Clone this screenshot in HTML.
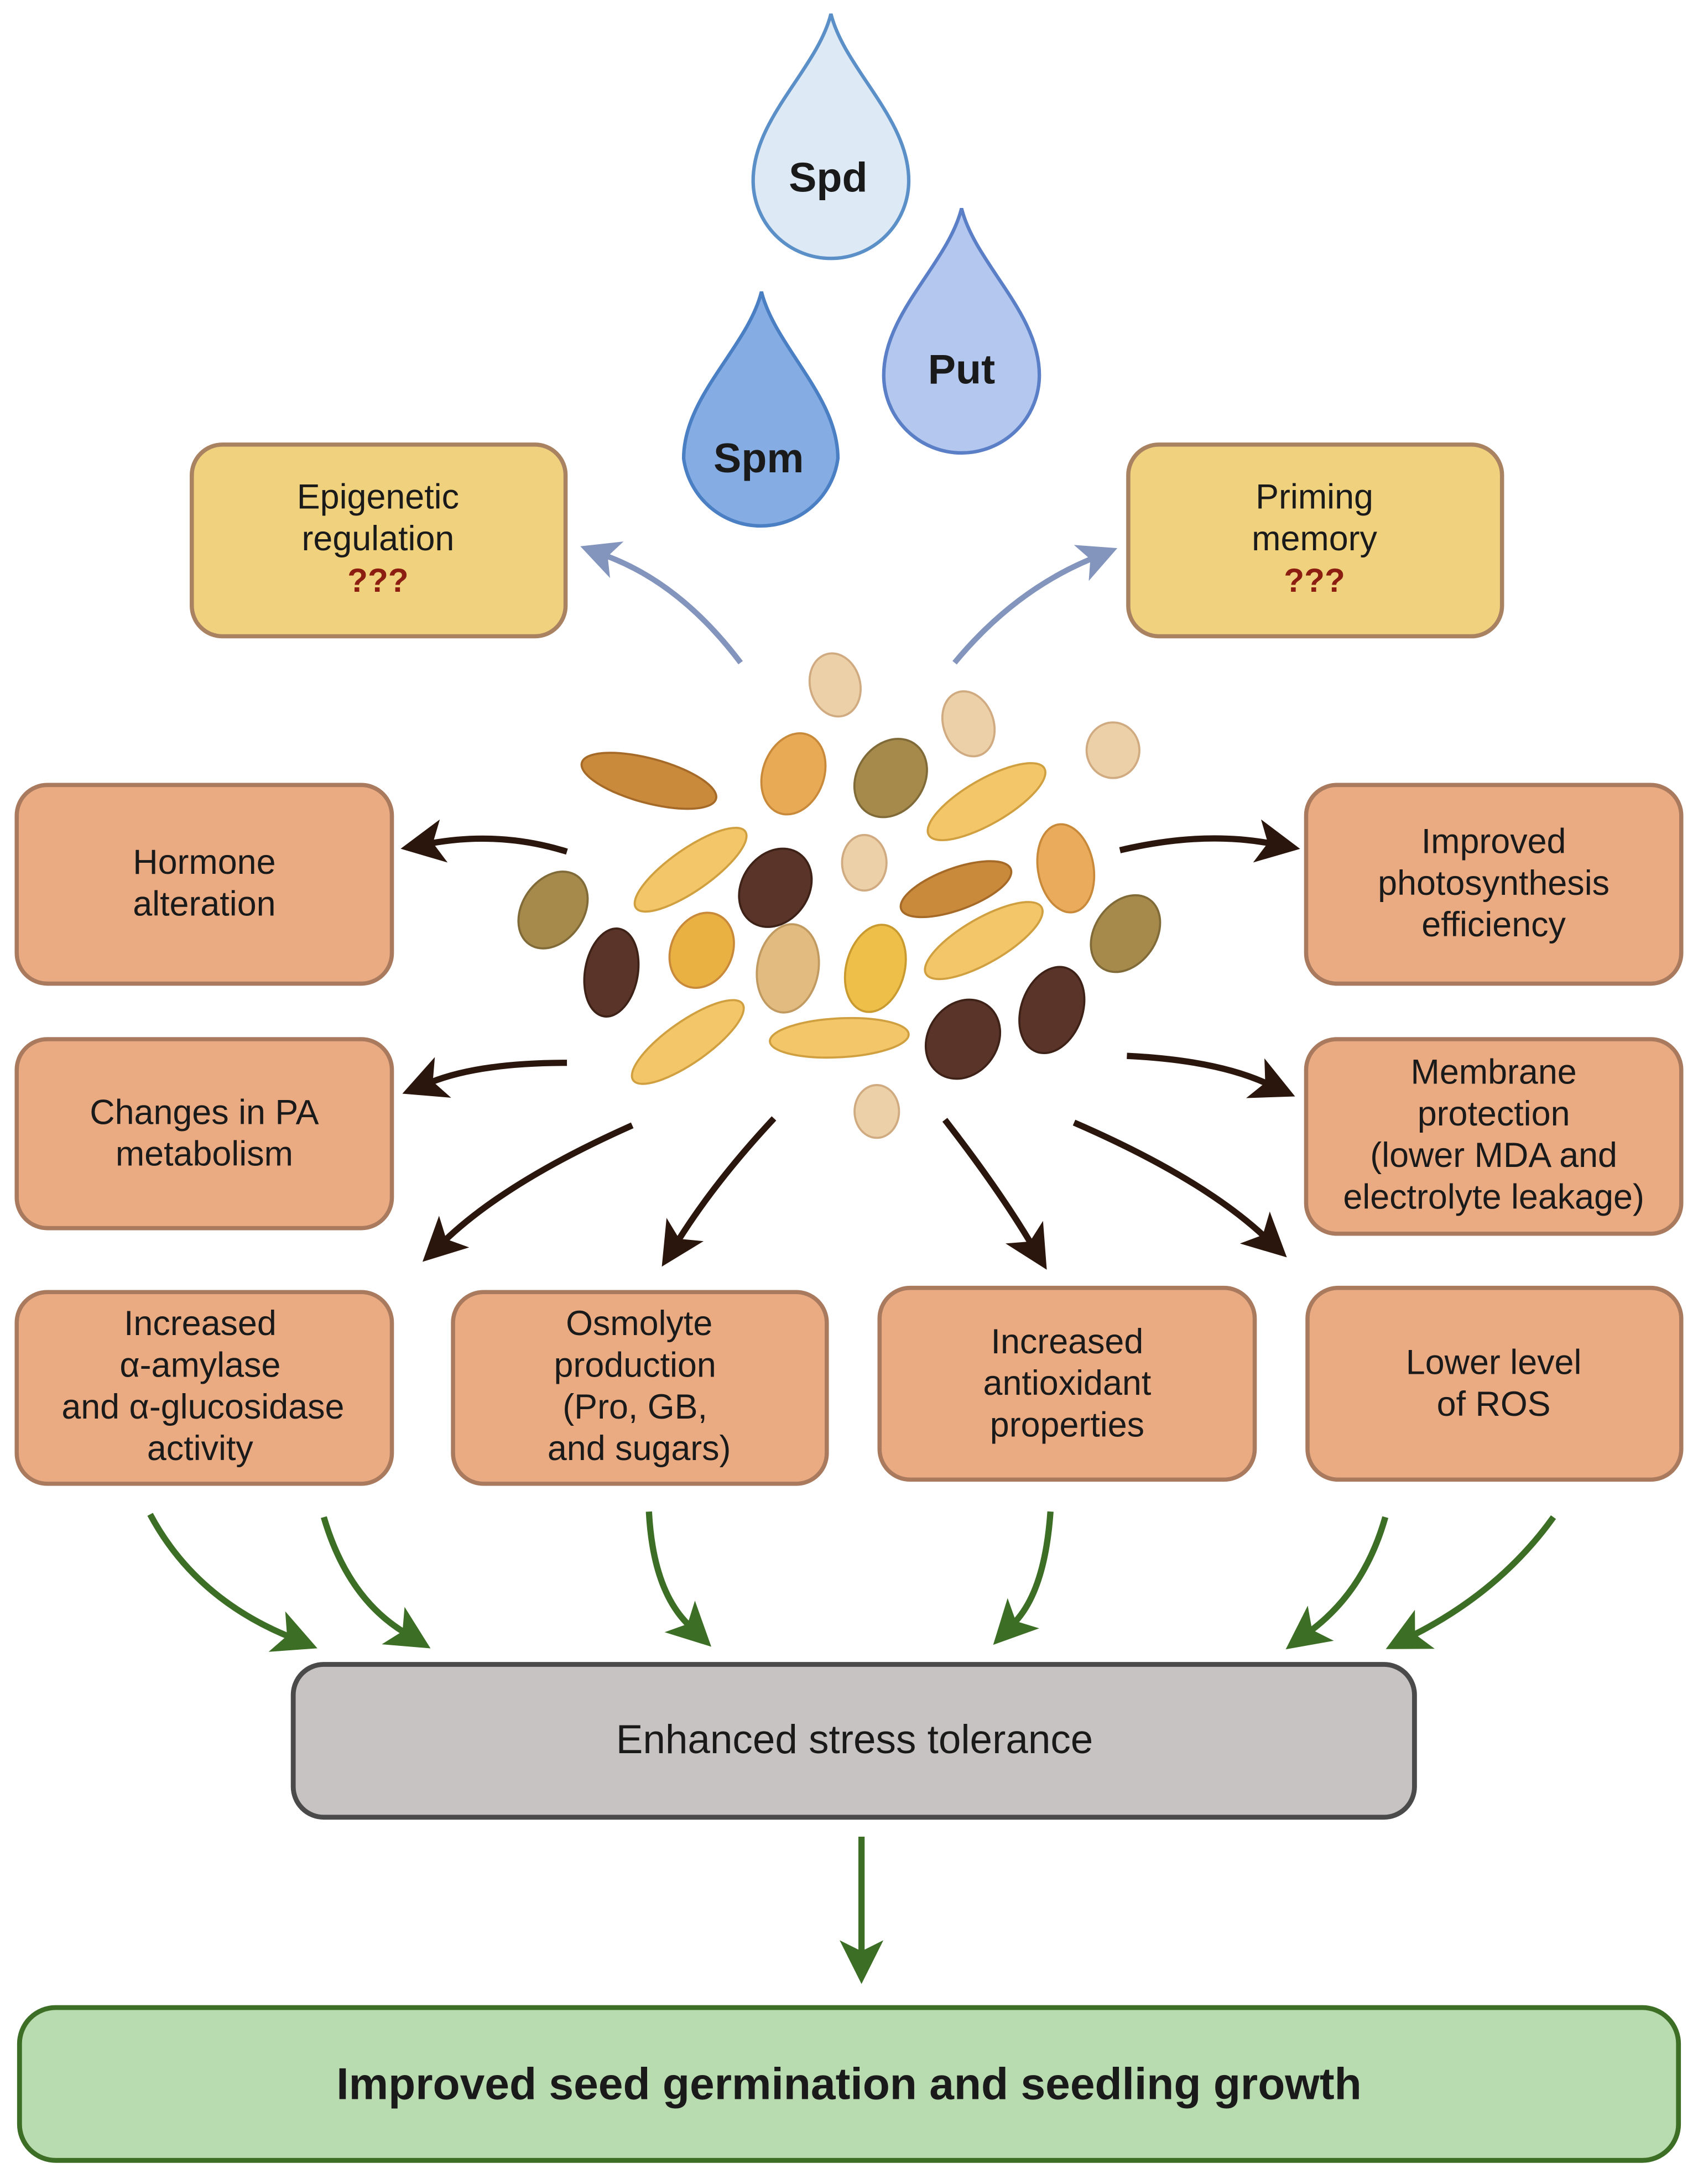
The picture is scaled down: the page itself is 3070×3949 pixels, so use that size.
<!DOCTYPE html>
<html><head><meta charset="utf-8"><style>
html,body{margin:0;padding:0;background:#fff}
svg{display:block}
text{font-family:"Liberation Sans",sans-serif;fill:#1a1a1a}
</style></head><body>
<svg width="3070" height="3949" viewBox="0 0 1222 1572" xmlns="http://www.w3.org/2000/svg">
<defs>
<marker id="mb" viewBox="0 0 10 10" refX="3" refY="5" markerWidth="7" markerHeight="7" markerUnits="strokeWidth" orient="auto"><path d="M0,0 L10,5 L0,10 L2.5,5 Z" fill="#2a160c"/></marker>
<marker id="mg" viewBox="0 0 10 10" refX="3" refY="5" markerWidth="7" markerHeight="7" markerUnits="strokeWidth" orient="auto"><path d="M0,0 L10,5 L0,10 L2.5,5 Z" fill="#3d6e25"/></marker>
<marker id="mv" viewBox="0 0 10 10" refX="3" refY="5" markerWidth="7" markerHeight="7" markerUnits="strokeWidth" orient="auto"><path d="M0,0 L10,5 L0,10 L2.5,5 Z" fill="#8495bd"/></marker>
</defs>

<!-- drops -->
<path d="M598,10 C608,50 654,85 654,130 A56,56 0 0 1 542,130 C542,85 588,50 598,10 Z" fill="#dde9f4" stroke="#5b8fc7" stroke-width="2.5"/>
<text x="596" y="138" font-size="30" font-weight="bold" text-anchor="middle">Spd</text>
<path d="M692,150 C702,190 748,225 748,270 A56,56 0 0 1 636,270 C636,225 682,190 692,150 Z" fill="#b4c7ef" stroke="#5b7fc7" stroke-width="2.5"/>
<text x="692" y="276" font-size="30" font-weight="bold" text-anchor="middle">Put</text>
<path d="M548,210 C558,250 603,285 603,330 A56,56 0 0 1 492,330 C492,285 538,250 548,210 Z" fill="#86ade3" stroke="#4a7fc4" stroke-width="2.5"/>
<text x="546" y="340" font-size="30" font-weight="bold" text-anchor="middle">Spm</text>

<!-- yellow boxes -->
<rect x="138" y="320" width="269" height="138" rx="22" fill="#f0d27e" stroke="#a98262" stroke-width="3"/>
<text x="272" y="366" font-size="25" text-anchor="middle">Epigenetic</text>
<text x="272" y="396" font-size="25" text-anchor="middle">regulation</text>
<text x="272" y="426" font-size="24" font-weight="bold" text-anchor="middle" style="fill:#8b1e10">???</text>
<rect x="812" y="320" width="269" height="138" rx="22" fill="#f0d27e" stroke="#a98262" stroke-width="3"/>
<text x="946" y="366" font-size="25" text-anchor="middle">Priming</text>
<text x="946" y="396" font-size="25" text-anchor="middle">memory</text>
<text x="946" y="426" font-size="24" font-weight="bold" text-anchor="middle" style="fill:#8b1e10">???</text>

<!-- blue-grey arrows -->
<path d="M533,477 Q490,420 436,400" fill="none" stroke="#8495bd" stroke-width="4" marker-end="url(#mv)"/>
<path d="M687,477 Q730,425 786,402" fill="none" stroke="#8495bd" stroke-width="4" marker-end="url(#mv)"/>

<!-- orange boxes -->
<g fill="#eaab82" stroke="#a97a5e" stroke-width="3">
<rect x="12" y="565" width="270" height="143" rx="22"/>
<rect x="12" y="748" width="270" height="136" rx="22"/>
<rect x="940" y="565" width="270" height="143" rx="22"/>
<rect x="940" y="748" width="270" height="140" rx="22"/>
<rect x="12" y="930" width="270" height="138" rx="22"/>
<rect x="326" y="930" width="269" height="138" rx="22"/>
<rect x="633" y="927" width="270" height="138" rx="22"/>
<rect x="941" y="927" width="269" height="138" rx="22"/>
</g>
<g font-size="25" text-anchor="middle">
<text x="147" y="629">Hormone</text><text x="147" y="659">alteration</text>
<text x="147" y="809">Changes in PA</text><text x="147" y="839">metabolism</text>
<text x="1075" y="614">Improved</text><text x="1075" y="644">photosynthesis</text><text x="1075" y="674">efficiency</text>
<text x="1075" y="780">Membrane</text><text x="1075" y="810">protection</text><text x="1075" y="840">(lower MDA and</text><text x="1075" y="870">electrolyte leakage)</text>
<text x="144" y="961">Increased</text><text x="144" y="991">α-amylase</text><text x="146" y="1021">and α-glucosidase</text><text x="144" y="1051">activity</text>
<text x="460" y="961">Osmolyte</text><text x="457" y="991">production</text><text x="457" y="1021">(Pro, GB,</text><text x="460" y="1051">and sugars)</text>
<text x="768" y="974">Increased</text><text x="768" y="1004">antioxidant</text><text x="768" y="1034">properties</text>
<text x="1075" y="989">Lower level</text><text x="1075" y="1019">of ROS</text>
</g>

<!-- seeds -->
<g stroke-width="1.5">
<ellipse cx="467" cy="562" rx="50" ry="16" transform="rotate(15 467 562)" fill="#c98a3c" stroke="#a66a28"/>
<ellipse cx="571" cy="557" rx="22" ry="30" transform="rotate(20 571 557)" fill="#e8aa55" stroke="#c88a3a"/>
<ellipse cx="641" cy="560" rx="24" ry="30" transform="rotate(35 641 560)" fill="#a58a4c" stroke="#806a38"/>
<ellipse cx="601" cy="493" rx="18" ry="23" transform="rotate(-15 601 493)" fill="#ecd0a8" stroke="#d0aa80"/>
<ellipse cx="697" cy="521" rx="18" ry="24" transform="rotate(-20 697 521)" fill="#ecd0a8" stroke="#d0aa80"/>
<ellipse cx="801" cy="540" rx="19" ry="20" fill="#ecd0a8" stroke="#d0aa80"/>
<ellipse cx="710" cy="577" rx="48" ry="16" transform="rotate(-30 710 577)" fill="#f3c66a" stroke="#d0a040"/>
<ellipse cx="497" cy="626" rx="48" ry="15" transform="rotate(-35 497 626)" fill="#f3c66a" stroke="#d0a040"/>
<ellipse cx="558" cy="639" rx="24" ry="30" transform="rotate(35 558 639)" fill="#5a3428" stroke="#3e2218"/>
<ellipse cx="622" cy="621" rx="16" ry="20" fill="#ecd0a8" stroke="#d0aa80"/>
<ellipse cx="688" cy="640" rx="42" ry="15" transform="rotate(-20 688 640)" fill="#c98a3c" stroke="#a66a28"/>
<ellipse cx="767" cy="625" rx="20" ry="32" transform="rotate(-10 767 625)" fill="#eaac5c" stroke="#c88a3a"/>
<ellipse cx="398" cy="655" rx="22" ry="30" transform="rotate(35 398 655)" fill="#a58a4c" stroke="#806a38"/>
<ellipse cx="810" cy="672" rx="22" ry="30" transform="rotate(35 810 672)" fill="#a58a4c" stroke="#806a38"/>
<ellipse cx="440" cy="700" rx="19" ry="32" transform="rotate(10 440 700)" fill="#5a3428" stroke="#3e2218"/>
<ellipse cx="505" cy="684" rx="22" ry="28" transform="rotate(25 505 684)" fill="#e9b042" stroke="#c88a3a"/>
<ellipse cx="567" cy="697" rx="22" ry="32" transform="rotate(10 567 697)" fill="#e2bb80" stroke="#c09a60"/>
<ellipse cx="630" cy="697" rx="21" ry="32" transform="rotate(15 630 697)" fill="#eec04a" stroke="#c89a30"/>
<ellipse cx="708" cy="677" rx="48" ry="16" transform="rotate(-30 708 677)" fill="#f3c66a" stroke="#d0a040"/>
<ellipse cx="757" cy="727" rx="22" ry="32" transform="rotate(20 757 727)" fill="#5a3428" stroke="#3e2218"/>
<ellipse cx="693" cy="748" rx="25" ry="30" transform="rotate(35 693 748)" fill="#5a3428" stroke="#3e2218"/>
<ellipse cx="495" cy="750" rx="48" ry="15" transform="rotate(-35 495 750)" fill="#f3c66a" stroke="#d0a040"/>
<ellipse cx="604" cy="747" rx="50" ry="14" transform="rotate(-3 604 747)" fill="#f3c66a" stroke="#d0a040"/>
<ellipse cx="631" cy="800" rx="16" ry="19" fill="#ecd0a8" stroke="#d0aa80"/>
</g>

<!-- brown arrows -->
<g fill="none" stroke="#2a160c" stroke-width="4.5">
<path d="M408,613 Q360,598 310,607" marker-end="url(#mb)"/>
<path d="M408,765 Q345,765 310,779" marker-end="url(#mb)"/>
<path d="M455,810 Q365,850 320,893" marker-end="url(#mb)"/>
<path d="M557,805 Q515,850 488,893" marker-end="url(#mb)"/>
<path d="M680,806 Q718,855 742,895" marker-end="url(#mb)"/>
<path d="M773,808 Q865,848 910,890" marker-end="url(#mb)"/>
<path d="M806,612 Q865,598 914,607" marker-end="url(#mb)"/>
<path d="M811,760 Q875,763 912,780" marker-end="url(#mb)"/>
</g>

<!-- gray box -->
<rect x="211" y="1198" width="807" height="110" rx="22" fill="#c7c3c2" stroke="#4a4a4a" stroke-width="3.5"/>
<text x="615" y="1262" font-size="29" text-anchor="middle">Enhanced stress tolerance</text>

<!-- green arrows -->
<g fill="none" stroke="#3d6e25" stroke-width="4.5">
<path d="M108,1090 Q140,1150 208,1178" marker-end="url(#mg)"/>
<path d="M233,1092 Q250,1150 291,1175" marker-end="url(#mg)"/>
<path d="M467,1088 Q470,1145 496,1170" marker-end="url(#mg)"/>
<path d="M756,1088 Q752,1145 730,1168" marker-end="url(#mg)"/>
<path d="M997,1092 Q982,1145 943,1174" marker-end="url(#mg)"/>
<path d="M1118,1092 Q1080,1145 1017,1177" marker-end="url(#mg)"/>
<path d="M620,1322 L620,1406" marker-end="url(#mg)"/>
</g>

<!-- green box -->
<rect x="14" y="1445" width="1194" height="110" rx="26" fill="#b9dbb0" stroke="#3d6e25" stroke-width="3.5"/>
<text x="611" y="1511" font-size="32" font-weight="bold" text-anchor="middle">Improved seed germination and seedling growth</text>
</svg>
</body></html>
